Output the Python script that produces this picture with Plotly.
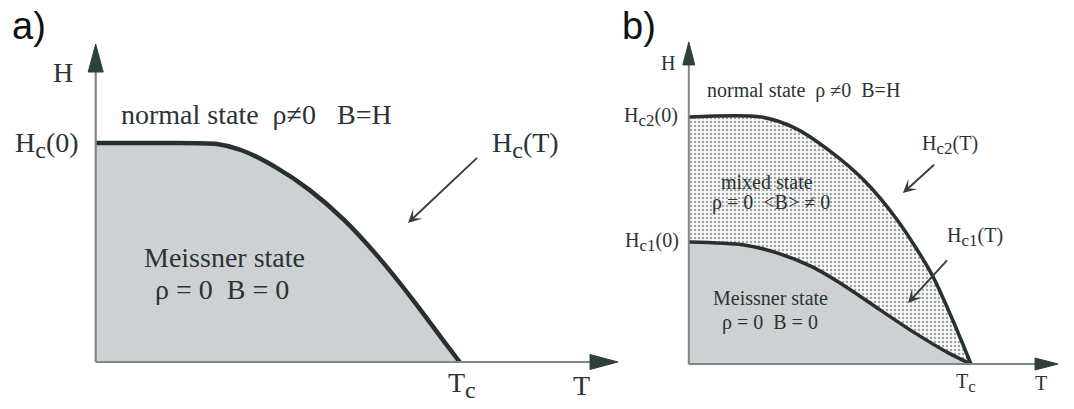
import plotly.graph_objects as go

# ---- phase-boundary curves (T in units of Tc, H in units of the zero-temperature field) ----
# a) type-I superconductor: thermodynamic critical field Hc(T)
T_A = [0.0, 0.17, 0.333, 0.399, 0.494, 0.588, 0.683, 0.777, 0.872, 0.948, 1.0]
HC_A = [1.0, 1.0, 0.995, 0.968, 0.890, 0.785, 0.648, 0.479, 0.283, 0.114, 0.0]

# b) type-II superconductor: upper and lower critical fields
T_B2 = [0.0, 0.257, 0.377, 0.496, 0.620, 0.739, 0.859, 0.931, 1.0]
HC2_B = [1.0, 1.0, 0.955, 0.866, 0.745, 0.583, 0.368, 0.190, 0.0]
T_B1 = [0.0, 0.196, 0.315, 0.438, 0.558, 0.678, 0.801, 0.920, 1.0]
HC1_B = [0.494, 0.482, 0.449, 0.393, 0.312, 0.219, 0.126, 0.045, 0.0]

W, H = 1074, 409
SERIF = "Liberation Serif, Times New Roman, serif"
INK = "#2a3432"
CURVE = "#27312f"
AXIS = "#7f8686"
GRAY = "#cdd1d3"

# axis windows for the two panels
XA_DOM, XA_RNG = [0.0, 0.62], [-0.2629, 1.5665]
YA_DOM, YA_RNG = [0.0, 1.0], [-0.2146, 1.653]
XB_DOM, XB_RNG = [0.5, 1.0], [-0.5381, 1.3655]
YB_DOM, YB_RNG = [0.0, 1.0], [-0.1822, 1.4737]


def px_per_unit(dom, rng, size):
    return (dom[1] - dom[0]) * size / (rng[1] - rng[0])


def sub(base, s, size):
    # subscript kept close to full size, as in the typeset labels
    return f"{base}<sub><span style='font-size:{round(size * 0.85)}px'>{s}</span></sub>"


fig = go.Figure()

# panel a: Meissner region under Hc(T)
fig.add_trace(go.Scatter(
    x=T_A, y=HC_A, mode="lines", line=dict(color=CURVE, width=4.5, shape="spline", smoothing=0.8),
    fill="tozeroy", fillcolor=GRAY, xaxis="x", yaxis="y", hoverinfo="skip"))

# panel b: mixed state (stippled) under Hc2, Meissner state under Hc1
fig.add_trace(go.Scatter(
    x=T_B2, y=HC2_B, mode="lines", line=dict(color=CURVE, width=3.5, shape="spline", smoothing=0.8),
    fill="tozeroy", fillcolor="#f8f8f8",
    fillpattern=dict(shape=".", size=4, solidity=0.3, fgcolor="#4b5250", bgcolor="#f8f8f8"),
    xaxis="x2", yaxis="y2", hoverinfo="skip"))
fig.add_trace(go.Scatter(
    x=T_B1, y=HC1_B, mode="lines", line=dict(color=CURVE, width=3.5, shape="spline", smoothing=0.8),
    fill="tozeroy", fillcolor=GRAY, xaxis="x2", yaxis="y2", hoverinfo="skip"))

shapes = []


def axes_with_arrows(xr, yr, t_end, h_end, sx, sy, head_len, head_half, width):
    # horizontal T axis and vertical H axis, each ending in a filled arrowhead
    shapes.append(dict(type="line", xref=xr, yref=yr, x0=0, y0=0, x1=t_end - head_len / sx, y1=0,
                       line=dict(color=AXIS, width=width)))
    shapes.append(dict(type="line", xref=xr, yref=yr, x0=0, y0=0, x1=0, y1=h_end - head_len / sy,
                       line=dict(color=AXIS, width=width)))
    bx = t_end - head_len / sx
    hy = head_half / sy
    shapes.append(dict(type="path", xref=xr, yref=yr,
                       path=f"M{t_end},0 L{bx},{hy} L{bx},{-hy} Z",
                       fillcolor="#2d403c", line=dict(color="#2d403c", width=1)))
    by = h_end - head_len / sy
    hx = head_half / sx
    shapes.append(dict(type="path", xref=xr, yref=yr,
                       path=f"M0,{h_end} L{hx},{by} L{-hx},{by} Z",
                       fillcolor="#2d403c", line=dict(color="#2d403c", width=1)))


sxa, sya = px_per_unit(XA_DOM, XA_RNG, W), px_per_unit(YA_DOM, YA_RNG, H)
sxb, syb = px_per_unit(XB_DOM, XB_RNG, W), px_per_unit(YB_DOM, YB_RNG, H)
axes_with_arrows("x", "y", 1.435, 1.452, sxa, sya, 28, 7.5, 2.2)
axes_with_arrows("x2", "y2", 1.309, 1.304, sxb, syb, 23, 6, 2)

ann = []


def label(xr, yr, x, y, text, size, anchor="center", color=INK, family=SERIF):
    ann.append(dict(xref=xr, yref=yr, x=x, y=y, text=text, showarrow=False,
                    xanchor=anchor, yanchor="middle",
                    font=dict(family=family, size=size, color=color)))


def pointer(xr, yr, tail, tip):
    ann.append(dict(xref=xr, yref=yr, axref=xr, ayref=yr, x=tip[0], y=tip[1],
                    ax=tail[0], ay=tail[1], text=" ", showarrow=True,
                    font=dict(family=SERIF, size=10, color=INK),
                    arrowhead=3, arrowsize=1.2, arrowwidth=1.9, arrowcolor="#343e3c"))


FA, FB = 28, 20

# panel a labels
label("x", "y", -0.090, 1.32, "H", FA)
label("x", "y", 0.064, 1.128, "normal state  ρ≠0   B=H", FA, "left")
label("x", "y", -0.040, 0.991, sub("H", "c", FA) + "(0)", FA, "right")
label("x", "y", 1.083, 0.991, sub("H", "c", FA) + "(T)", FA, "left")
label("x", "y", 0.355, 0.475, "Meissner state", FA)
label("x", "y", 0.347, 0.329, "ρ = 0  B = 0", FA)
label("x", "y", 1.006, -0.105, sub("T", "c", FA), FA)
label("x", "y", 1.336, -0.105, "T", FA)
pointer("x", "y", (1.056, 0.945), (0.858, 0.635))

# panel b labels
label("x2", "y2", -0.074, 1.219, "H", FB)
label("x2", "y2", 0.057, 1.109, "normal state  ρ ≠0  B=H", FB, "left")
label("x2", "y2", -0.031, 1.0, sub("H", "c2", FB) + "(0)", FB, "right")
label("x2", "y2", -0.028, 0.494, sub("H", "c1", FB) + "(0)", FB, "right")
label("x2", "y2", 0.820, 0.887, sub("H", "c2", FB) + "(T)", FB, "left")
label("x2", "y2", 0.908, 0.514, sub("H", "c1", FB) + "(T)", FB, "left")
label("x2", "y2", 0.278, 0.737, "mixed state", FB)
label("x2", "y2", 0.292, 0.652, "ρ = 0  &lt;B&gt; ≠ 0", FB)
label("x2", "y2", 0.288, 0.267, "Meissner state", FB)
label("x2", "y2", 0.288, 0.170, "ρ = 0  B = 0", FB)
label("x2", "y2", 0.983, -0.077, sub("T", "c", FB), FB)
label("x2", "y2", 1.249, -0.077, "T", FB)
pointer("x2", "y2", (0.880, 0.818), (0.759, 0.692))
pointer("x2", "y2", (0.926, 0.433), (0.777, 0.247))

# panel tags
label("paper", "paper", 10 / W, 1 - 26 / H, "a)", 38, "left", "#111111", "Liberation Sans, Arial, sans-serif")
label("paper", "paper", 620 / W, 1 - 26 / H, "b)", 38, "left", "#111111", "Liberation Sans, Arial, sans-serif")

hidden = dict(visible=False, fixedrange=True, showgrid=False, zeroline=False)
fig.update_layout(
    width=W, height=H, margin=dict(l=0, r=0, t=0, b=0),
    paper_bgcolor="white", plot_bgcolor="rgba(0,0,0,0)", showlegend=False,
    xaxis=dict(domain=XA_DOM, range=XA_RNG, anchor="y", **hidden),
    yaxis=dict(domain=YA_DOM, range=YA_RNG, anchor="x", **hidden),
    xaxis2=dict(domain=XB_DOM, range=XB_RNG, anchor="y2", **hidden),
    yaxis2=dict(domain=YB_DOM, range=YB_RNG, anchor="x2", **hidden),
    shapes=shapes, annotations=ann,
)

fig.write_html("out.html", config={"displayModeBar": False})
